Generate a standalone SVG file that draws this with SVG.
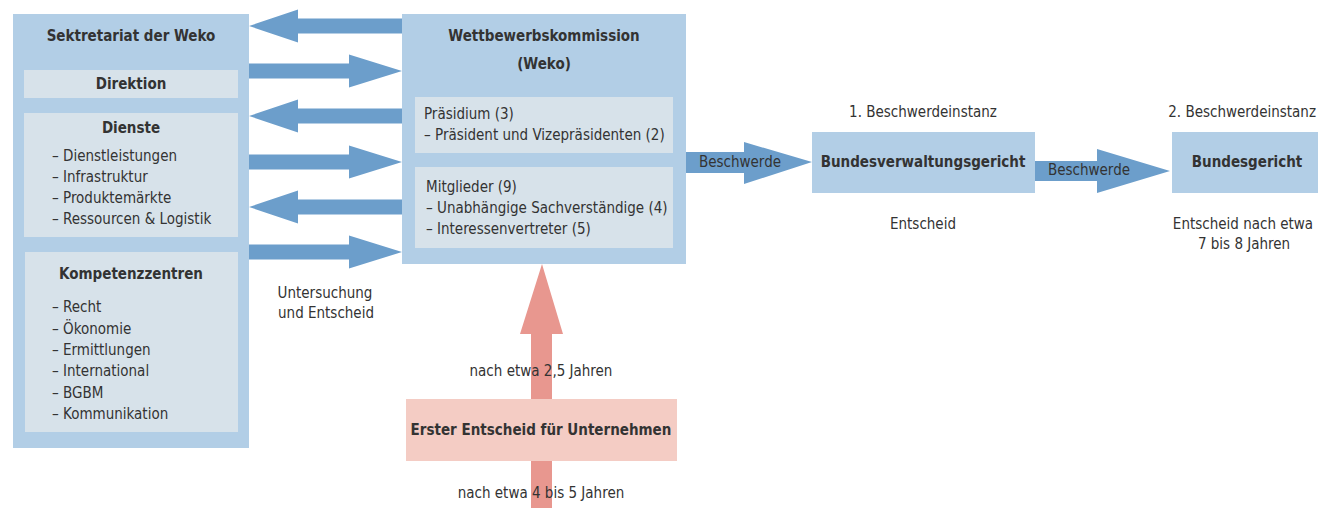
<svg xmlns="http://www.w3.org/2000/svg" width="1318" height="508" viewBox="0 0 1318 508">
<style>
.outer{fill:#B2CEE6}
.inner{fill:#D7E2EA}
.arr{fill:#6C9ECB}
.parr{fill:#E8978F}
.pbox{fill:#F4CCC4}
text{font-family:"Liberation Sans Narrow","DejaVu Sans Condensed","Liberation Sans",sans-serif;fill:#333;font-size:15px}
.b{font-weight:bold}
.c{text-anchor:middle}
</style>
<rect width="1318" height="508" fill="#fff"/>
<g id="connectors">
  <!-- left-pointing arrows -->
  <polygon class="arr" points="402,18.5 298,18.5 298,9.5 249,26 298,42.5 298,33.5 402,33.5"/>
  <polygon class="arr" points="402,108.5 298,108.5 298,99.5 249,116 298,132.5 298,123.5 402,123.5"/>
  <polygon class="arr" points="402,199.5 298,199.5 298,190.5 249,207 298,223.5 298,214.5 402,214.5"/>
  <!-- right-pointing arrows -->
  <polygon class="arr" points="249,63.5 349,63.5 349,54.5 402,71 349,87.5 349,78.5 249,78.5"/>
  <polygon class="arr" points="249,154.5 349,154.5 349,145.5 402,162 349,178.5 349,169.5 249,169.5"/>
  <polygon class="arr" points="249,244.5 349,244.5 349,235.5 402,252 349,268.5 349,259.5 249,259.5"/>
  <!-- Beschwerde arrows -->
  <polygon class="arr" points="686,152 744,152 744,142 812,162 744,184 744,173 686,173"/>
  <polygon class="arr" points="1035,161 1097,161 1097,149 1170,171 1097,193 1097,181 1035,181"/>
  <!-- pink arrow -->
  <polygon class="parr" points="531,508 531,334 520,334 542,264 563,334 552,334 552,508"/>
</g>
<g id="sekretariat">
  <rect class="outer" x="13" y="14" width="236" height="434"/>
  <text class="b c" x="131" y="41">Sektretariat der Weko</text>
</g>
<g id="direktion">
  <rect class="inner" x="24" y="70" width="214" height="28"/>
  <text class="b c" x="131" y="89">Direktion</text>
</g>
<g id="dienste">
  <rect class="inner" x="24" y="113" width="214" height="124"/>
  <text class="b c" x="131" y="133">Dienste</text>
  <text x="52" y="161">– Dienstleistungen</text>
  <text x="52" y="182">– Infrastruktur</text>
  <text x="52" y="203">– Produktemärkte</text>
  <text x="52" y="224">– Ressourcen &amp; Logistik</text>
</g>
<g id="kompetenzzentren">
  <rect class="inner" x="25" y="252" width="213" height="180"/>
  <text class="b c" x="131" y="279">Kompetenzzentren</text>
  <text x="52" y="312">– Recht</text>
  <text x="52" y="334">– Ökonomie</text>
  <text x="52" y="355">– Ermittlungen</text>
  <text x="52" y="376">– International</text>
  <text x="52" y="398">– BGBM</text>
  <text x="52" y="419">– Kommunikation</text>
</g>
<g id="untersuchung-label">
  <text class="c" x="325" y="298">Untersuchung</text>
  <text class="c" x="326" y="318">und Entscheid</text>
</g>
<g id="weko">
  <rect class="outer" x="402" y="14" width="284" height="250"/>
  <text class="b c" x="544" y="41">Wettbewerbskommission</text>
  <text class="b c" x="544" y="69">(Weko)</text>
</g>
<g id="praesidium">
  <rect class="inner" x="415" y="97" width="258" height="56"/>
  <text x="424" y="119">Präsidium (3)</text>
  <text x="424" y="140">– Präsident und Vizepräsidenten (2)</text>
</g>
<g id="mitglieder">
  <rect class="inner" x="415" y="167" width="258" height="81"/>
  <text x="426" y="192">Mitglieder (9)</text>
  <text x="426" y="213">– Unabhängige Sachverständige (4)</text>
  <text x="426" y="234">– Interessenvertreter (5)</text>
</g>
<g id="erster-entscheid">
  <text class="c" x="541" y="376">nach etwa 2,5 Jahren</text>
  <rect class="pbox" x="406" y="399" width="271" height="62"/>
  <text class="b c" x="541" y="435">Erster Entscheid für Unternehmen</text>
  <text class="c" x="541" y="498">nach etwa 4 bis 5 Jahren</text>
</g>
<g id="beschwerde-labels">
  <text class="c" x="740" y="167">Beschwerde</text>
  <text class="c" x="1089" y="175">Beschwerde</text>
</g>
<g id="bvg">
  <text class="c" x="923" y="117">1. Beschwerdeinstanz</text>
  <rect class="outer" x="812" y="132" width="223" height="61"/>
  <text class="b c" x="923" y="167">Bundesverwaltungsgericht</text>
  <text class="c" x="923" y="229">Entscheid</text>
</g>
<g id="bundesgericht">
  <text x="1316" y="117" text-anchor="end">2. Beschwerdeinstanz</text>
  <rect class="outer" x="1172" y="132" width="146" height="61"/>
  <text class="b c" x="1247" y="167">Bundesgericht</text>
  <text class="c" x="1243" y="229">Entscheid nach etwa</text>
  <text class="c" x="1244" y="249">7 bis 8 Jahren</text>
</g>
</svg>
